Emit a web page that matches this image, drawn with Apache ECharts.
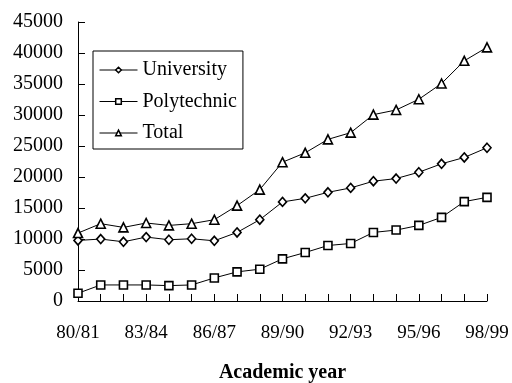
<!DOCTYPE html>
<html>
<head>
<meta charset="utf-8">
<script src="https://cdn.jsdelivr.net/npm/echarts@6/dist/echarts.min.js"></script>
<style>
  html, body { margin: 0; padding: 0; background: #fff; }
  #chart { width: 512px; height: 383px; }
</style>
</head>
<body>
<div id="chart"></div>
<script>
// Student enrolments by academic year
const years = ['80/81','81/82','82/83','83/84','84/85','85/86','86/87','87/88','88/89','89/90',
               '90/91','91/92','92/93','93/94','94/95','95/96','96/97','97/98','98/99'];
const university = [9770, 9990, 9550, 10310, 9880, 10040, 9710, 11060, 13110, 15980,
                    16560, 17530, 18240, 19320, 19750, 20770, 22130, 23150, 24720];
const polytechnic = [1250, 2590, 2590, 2590, 2480, 2590, 3720, 4700, 5130, 6800,
                     7820, 8950, 9280, 11060, 11440, 12190, 13490, 16030, 16720];
const total = [10960, 12470, 11870, 12580, 12190, 12470, 13110, 15380, 17970, 22390,
               23900, 26070, 27150, 30060, 30810, 32540, 35080, 38740, 40910];
const yTicks = { min: 0, max: 45000, step: 5000 };

const FONT = '"Liberation Serif", "Times New Roman", serif';

function lineSeries(name, data, symbol, size) {
  return {
    name: name,
    type: 'line',
    data: data,
    symbol: symbol,
    symbolSize: size,
    showAllSymbol: true,
    lineStyle: { color: '#000', width: 1 },
    itemStyle: { color: '#fff', borderColor: '#000', borderWidth: 1.6 },
    emphasis: { disabled: true },
    animation: false
  };
}

const chart = echarts.init(document.getElementById('chart'));
chart.setOption({
  backgroundColor: '#fff',
  animation: false,
  grid: { left: 78, right: 25, top: 22, bottom: 82, outerBoundsMode: 'none', containLabel: false },
  legend: {
    orient: 'vertical',
    left: 93,
    top: 51,
    padding: [9, 6, 6, 6],
    borderColor: '#000',
    borderWidth: 1,
    itemWidth: 38,
    itemHeight: 7,
    itemGap: 11.5,
    itemStyle: { color: '#fff', borderColor: '#000', borderWidth: 1.5 },
    lineStyle: { color: '#000', width: 1 },
    textStyle: { fontFamily: FONT, fontSize: 20, color: '#000', lineHeight: 20 },
    data: ['University', 'Polytechnic', 'Total']
  },
  xAxis: {
    type: 'category',
    data: years,
    boundaryGap: false,
    name: 'Academic year',
    nameLocation: 'middle',
    nameGap: 62,
    nameTextStyle: { fontFamily: FONT, fontSize: 20, fontWeight: 'bold', color: '#000' },
    axisLine: { lineStyle: { color: '#000', width: 1 } },
    axisTick: { show: true, inside: true, length: 7, interval: 0, lineStyle: { color: '#000' } },
    axisLabel: { interval: 2, margin: 23, fontFamily: FONT, fontSize: 19, color: '#000' },
    splitLine: { show: false }
  },
  yAxis: {
    type: 'value',
    min: yTicks.min,
    max: yTicks.max,
    interval: yTicks.step,
    axisLine: { show: true, lineStyle: { color: '#000', width: 1 } },
    axisTick: { show: true, inside: true, length: 7, lineStyle: { color: '#000' } },
    axisLabel: { margin: 15, fontFamily: FONT, fontSize: 20, color: '#000',
                 formatter: function (v) { return String(v); } },
    splitLine: { show: false }
  },
  series: [
    lineSeries('University', university, 'diamond', [8, 9]),
    lineSeries('Polytechnic', polytechnic, 'rect', 8),
    lineSeries('Total', total, 'triangle', 9)
  ]
});
</script>
</body>
</html>
